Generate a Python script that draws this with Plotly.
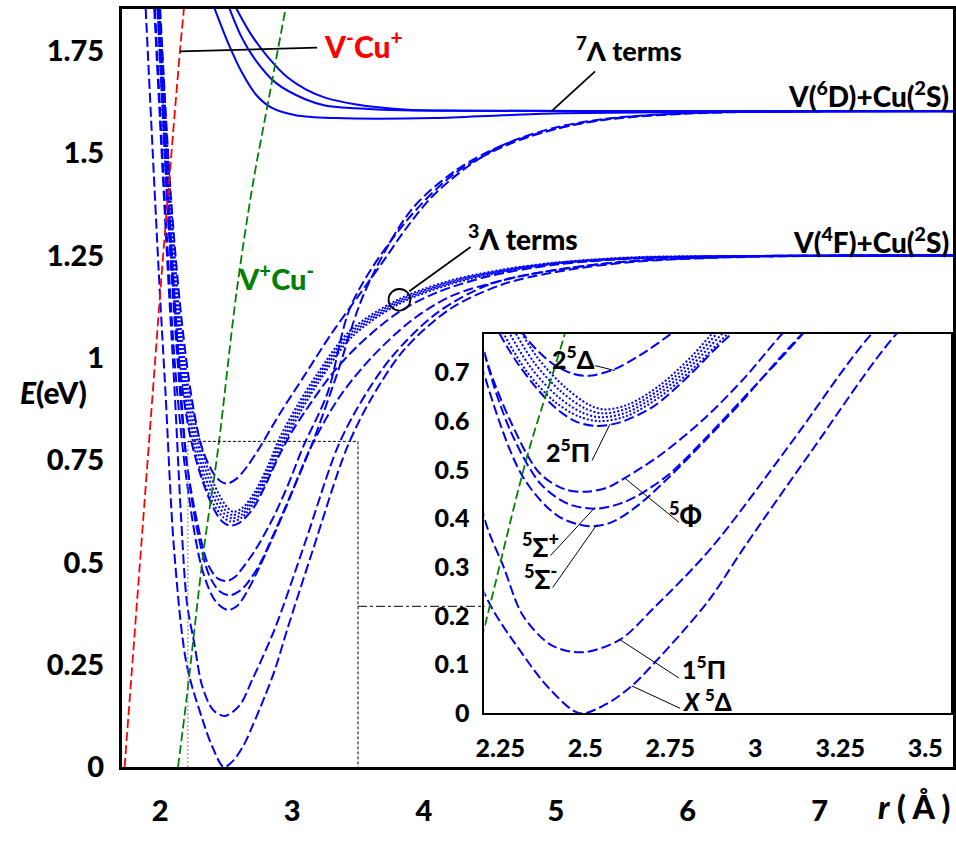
import plotly.graph_objects as go

# ---------------- potential energy curves of VCu (r in Angstrom, E in eV) ----------------
# septet terms, V(6D)+Cu(2S)
r_7a = [2.412, 2.517, 2.622, 2.727, 2.84, 3.027, 3.327, 4.076, 4.601, 5.05, 6.1, 8.02]
E_7a = [1.854, 1.768, 1.696, 1.643, 1.612, 1.593, 1.586, 1.586, 1.593, 1.598, 1.601, 1.603]
r_7b = [2.525, 2.615, 2.727, 2.877, 3.10, 3.25, 3.477, 3.85, 4.3, 5.5, 8.02]
E_7b = [1.854, 1.785, 1.726, 1.672, 1.632, 1.617, 1.61, 1.605, 1.604, 1.603, 1.603]
r_7c = [2.577, 2.69, 2.817, 2.967, 3.10, 3.25, 3.477, 3.85, 4.3, 5.5, 8.02]
E_7c = [1.854, 1.79, 1.735, 1.685, 1.657, 1.636, 1.62, 1.607, 1.604, 1.603, 1.603]

# quintet terms (dashed)
r_X5D = [1.89, 1.99, 2.04, 2.105, 2.2, 2.32, 2.395, 2.483, 2.56, 2.637, 2.703, 2.791, 2.869,
         2.965, 3.16, 3.416, 3.6, 3.85, 4.2, 4.6, 5.0, 5.6, 6.5, 8.02]
E_X5D = [1.853, 1.204, 0.916, 0.533, 0.252, 0.117, 0.05, 0.0, 0.018, 0.056, 0.103, 0.171, 0.237,
         0.338, 0.533, 0.78, 0.9, 1.02, 1.12, 1.18, 1.21, 1.235, 1.247, 1.25]

r_1P = [1.955, 2.06, 2.11, 2.16, 2.2035, 2.26, 2.317, 2.4, 2.49, 2.602, 2.7, 2.869, 3.1, 3.343,
        3.5, 3.75, 4.1, 4.5, 5.0, 5.6, 6.5, 8.02]
E_1P = [1.853, 1.2, 0.916, 0.6, 0.4, 0.3, 0.2, 0.14, 0.125, 0.151, 0.215, 0.338, 0.55, 0.78,
        0.88, 1.0, 1.11, 1.18, 1.215, 1.237, 1.248, 1.25]

r_Sm = [1.96, 2.05, 2.12, 2.2035, 2.317, 2.42, 2.512, 2.58, 2.657, 2.75, 2.85, 2.95, 3.14,
        3.35, 3.6, 3.9, 4.2, 4.6, 5.0, 5.6, 6.5, 8.02]
E_Sm = [1.853, 1.3, 0.95, 0.694, 0.485, 0.405, 0.384, 0.393, 0.428, 0.487, 0.558, 0.632, 0.78,
        0.9, 1.0, 1.09, 1.15, 1.19, 1.215, 1.237, 1.248, 1.25]

r_Sp = [1.99, 2.08, 2.15, 2.2035, 2.28, 2.37, 2.45, 2.53, 2.6, 2.657, 2.75, 2.85, 2.95, 3.14,
        3.33, 3.55, 3.9, 4.25, 4.6, 5.0, 5.4, 6.0, 7.0, 8.02]
E_Sp = [1.853, 1.3, 0.95, 0.74, 0.58, 0.47, 0.43, 0.42, 0.43, 0.448, 0.493, 0.562, 0.636, 0.78,
        0.95, 1.16, 1.36, 1.46, 1.52, 1.56, 1.584, 1.598, 1.603, 1.603]

r_Phi = [1.98, 2.06, 2.13, 2.2035, 2.28, 2.366, 2.44, 2.506, 2.57, 2.616, 2.72, 2.85, 2.97,
         3.08, 3.27, 3.45, 3.84, 4.23, 4.6, 4.97, 5.35, 6.0, 7.0, 8.02]
E_Phi = [1.853, 1.35, 1.0, 0.74, 0.6, 0.493, 0.46, 0.455, 0.465, 0.483, 0.53, 0.605, 0.69,
         0.78, 0.915, 1.13, 1.324, 1.45, 1.516, 1.557, 1.581, 1.597, 1.603, 1.603]

r_2P = [1.99, 2.07, 2.14, 2.22, 2.3, 2.4, 2.47, 2.53, 2.6, 2.7, 2.8, 2.9, 3.0, 3.1, 3.3,
        3.5, 3.8, 4.1, 4.5, 5.0, 5.6, 6.5, 8.02]
E_2P = [1.853, 1.3, 1.0, 0.82, 0.72, 0.635, 0.6, 0.59, 0.597, 0.63, 0.69, 0.76, 0.82, 0.87,
        0.96, 1.03, 1.11, 1.16, 1.2, 1.228, 1.243, 1.249, 1.25]

r_2D = [2.0, 2.08, 2.16, 2.24, 2.317, 2.4, 2.46, 2.51, 2.58, 2.66, 2.753, 2.9, 3.1, 3.3, 3.5,
        3.7, 3.85, 4.05, 4.3, 4.6, 5.0, 5.4, 6.0, 7.0, 8.02]
E_2D = [1.853, 1.4, 1.1, 0.9, 0.78, 0.72, 0.698, 0.693, 0.705, 0.735, 0.78, 0.86, 0.96, 1.06,
        1.15, 1.24, 1.31, 1.39, 1.46, 1.52, 1.563, 1.585, 1.598, 1.603, 1.603]

# triplet terms (dotted), V(4F)+Cu(2S)
r_3a = [1.98, 2.06, 2.13, 2.2, 2.26, 2.33, 2.41, 2.48, 2.54, 2.62, 2.72, 2.82, 2.92, 3.05,
        3.2, 3.45, 3.8, 4.2, 4.6, 5.0, 5.6, 6.5, 8.02]
E_3a = [1.853, 1.35, 1.05, 0.87, 0.78, 0.7, 0.64, 0.61, 0.6, 0.61, 0.65, 0.71, 0.78, 0.86,
        0.94, 1.05, 1.13, 1.18, 1.21, 1.23, 1.243, 1.249, 1.25]
r_3b = [1.985, 2.067, 2.138, 2.209, 2.27, 2.34, 2.42, 2.49, 2.545, 2.622, 2.72, 2.818, 2.915,
        3.045, 3.195, 3.445, 3.8, 4.2, 4.6, 5.0, 5.6, 6.5, 8.02]
E_3b = [1.853, 1.36, 1.06, 0.88, 0.79, 0.71, 0.65, 0.618, 0.608, 0.618, 0.658, 0.718, 0.788,
        0.867, 0.946, 1.055, 1.134, 1.183, 1.212, 1.231, 1.244, 1.249, 1.25]
r_3c = [1.99, 2.074, 2.146, 2.218, 2.28, 2.35, 2.43, 2.5, 2.55, 2.624, 2.72, 2.816, 2.91,
        3.04, 3.19, 3.44, 3.8, 4.2, 4.6, 5.0, 5.6, 6.5, 8.02]
E_3c = [1.853, 1.37, 1.07, 0.89, 0.8, 0.72, 0.66, 0.626, 0.616, 0.626, 0.666, 0.726, 0.796,
        0.874, 0.952, 1.06, 1.138, 1.186, 1.214, 1.232, 1.245, 1.249, 1.25]
r_3d = [1.995, 2.081, 2.154, 2.227, 2.29, 2.36, 2.44, 2.51, 2.555, 2.626, 2.72, 2.814, 2.905,
        3.035, 3.185, 3.435, 3.8, 4.2, 4.6, 5.0, 5.6, 6.5, 8.02]
E_3d = [1.853, 1.38, 1.08, 0.9, 0.81, 0.73, 0.67, 0.634, 0.624, 0.634, 0.674, 0.734, 0.804,
        0.881, 0.958, 1.065, 1.142, 1.189, 1.216, 1.233, 1.246, 1.249, 1.25]

# ionic curves
r_ion_minus = [1.73, 1.80, 1.87, 1.94, 2.01, 2.08, 2.15, 2.18]
E_ion_minus = [0.0, 0.3, 0.6, 0.9, 1.2, 1.48, 1.75, 1.853]
r_ion_plus = [2.135, 2.2, 2.33, 2.44, 2.577, 2.7, 2.825, 2.95]
E_ion_plus = [0.0, 0.167, 0.53, 0.78, 1.156, 1.42, 1.636, 1.853]

main_ticks = [0, 0.25, 0.5, 0.75, 1, 1.25, 1.5, 1.75]
main_ticktext = ["0", "0.25", "0.5", "0.75", "1", "1.25", "1.5", "1.75"]
main_xticks = [2, 3, 4, 5, 6, 7]
inset_yticks = [0, 0.1, 0.2, 0.3, 0.4, 0.5, 0.6, 0.7]
inset_xticks = [2.25, 2.5, 2.75, 3, 3.25, 3.5]
inset_xticktext = ["2.25", "2.5", "2.75", "3", "3.25", "3.5"]

BLUE = "#0000ff"
DASH = "10px,4px"
DOT = "2px,2px"

septets = [(r_7a, E_7a), (r_7b, E_7b), (r_7c, E_7c)]
quintets = [(r_X5D, E_X5D), (r_1P, E_1P), (r_Sm, E_Sm), (r_Sp, E_Sp), (r_Phi, E_Phi),
            (r_2P, E_2P), (r_2D, E_2D)]
triplets = [(r_3a, E_3a), (r_3b, E_3b), (r_3c, E_3c), (r_3d, E_3d)]

fig = go.Figure()


def add_curve(r, E, color, dash, width, axes):
    for xa, ya in axes:
        fig.add_trace(go.Scatter(x=r, y=E, mode="lines", xaxis=xa, yaxis=ya,
                                 line=dict(color=color, dash=dash, width=width,
                                           shape="spline", smoothing=0.9),
                                 hoverinfo="skip", showlegend=False))


both = [("x", "y"), ("x2", "y2")]
for r, E in septets:
    add_curve(r, E, BLUE, "solid", 2, [("x", "y")])
for r, E in quintets:
    add_curve(r, E, BLUE, DASH, 2, both)
for r, E in triplets:
    add_curve(r, E, BLUE, DOT, 2, both)
add_curve(r_ion_minus, E_ion_minus, "#ff0000", "9px,4px", 1.8, [("x", "y")])
add_curve(r_ion_plus, E_ion_plus, "#008000", "9px,4px", 1.8, both)

FONT = "Lato Black, Lato Heavy, Lato"
W = "bold"
tick_main = dict(family=FONT, size=29, color="black", weight=W)
tick_inset = dict(family=FONT, size=25, color="black", weight=W)

fig.update_layout(
    width=956, height=841,
    margin=dict(l=0, r=0, t=0, b=0),
    paper_bgcolor="white", plot_bgcolor="white",
    showlegend=False,
    xaxis=dict(domain=[114 / 956, 955 / 956], range=[1.708, 8.012],
               tickvals=main_xticks, tickfont=tick_main, showgrid=False, zeroline=False,
               showline=True, linecolor="black", linewidth=2.5, mirror=True,
               ticks="", ticklabelstandoff=16),
    yaxis=dict(domain=[1 - 782 / 841, 1 - 9 / 841], range=[0, 1.853],
               tickvals=main_ticks, ticktext=main_ticktext, tickfont=tick_main,
               showgrid=False, zeroline=False,
               showline=True, linecolor="black", linewidth=2.5, mirror=True,
               ticks="", ticklabelstandoff=9),
    xaxis2=dict(domain=[481 / 956, 953 / 956], range=[2.2035, 3.576], anchor="y2",
                tickvals=inset_xticks, ticktext=inset_xticktext, tickfont=tick_inset,
                showgrid=False, zeroline=False,
                showline=True, linecolor="black", linewidth=2, mirror=True,
                ticks="", ticklabelstandoff=12),
    yaxis2=dict(domain=[1 - 727 / 841, 1 - 340 / 841], range=[0, 0.78], anchor="x2",
                tickvals=inset_yticks, tickfont=tick_inset, showgrid=False, zeroline=False,
                showline=True, linecolor="black", linewidth=2, mirror=True,
                ticks="", ticklabelstandoff=8),
)

# zoom window in the main panel and its connector to the inset
fig.add_shape(type="line", xref="x", yref="y", x0=2.21, y0=0, x1=2.21, y1=0.796,
              line=dict(color="gray", width=1, dash="2px,2px"))
fig.add_shape(type="line", xref="x", yref="y", x0=2.21, y0=0.796, x1=3.5, y1=0.796,
              line=dict(color="black", width=1, dash="3px,2px"))
fig.add_shape(type="line", xref="x", yref="y", x0=3.5, y0=0.796, x1=3.5, y1=0,
              line=dict(color="black", width=1, dash="3px,2px"))
fig.add_shape(type="line", xref="x", yref="y", x0=3.5, y0=0.393, x1=4.459, y1=0.393,
              line=dict(color="black", width=1, dash="dashdot"))

# leader lines in the main panel
leaders_main = [
    (2.15, 1.749, 3.19, 1.758),   # V-Cu+
    (4.968, 1.603, 5.298, 1.70),  # 7-Lambda terms
    (3.889, 1.163, 4.354, 1.271),  # 3-Lambda terms
]
for x0, y0, x1, y1 in leaders_main:
    fig.add_shape(type="line", xref="x", yref="y", x0=x0, y0=y0, x1=x1, y1=y1,
                  line=dict(color="black", width=1.8))
fig.add_shape(type="circle", xref="x", yref="y", x0=3.814 - 0.0825, x1=3.814 + 0.0825,
              y0=1.142 - 0.0264, y1=1.142 + 0.0264, line=dict(color="black", width=1.8))

# leader lines in the inset
leaders_inset = [
    (2.529, 0.714, 2.587, 0.704),  # 2 5Delta
    (2.52, 0.519, 2.573, 0.594),   # 2 5Pi
    (2.616, 0.483, 2.776, 0.392),  # 5Phi
    (2.398, 0.324, 2.529, 0.423),  # 5Sigma+
    (2.404, 0.258, 2.535, 0.388),  # 5Sigma-
    (2.602, 0.151, 2.776, 0.072),  # 1 5Pi
    (2.637, 0.056, 2.779, 0.010),  # X 5Delta
]
for x0, y0, x1, y1 in leaders_inset:
    fig.add_shape(type="line", xref="x2", yref="y2", x0=x0, y0=y0, x1=x1, y1=y1,
                  line=dict(color="black", width=1))


def label(text, x, y, xref, yref, size=26, color="black", xanchor="center"):
    fig.add_annotation(text=text, x=x, y=y, xref=xref, yref=yref, showarrow=False,
                       xanchor=xanchor, yanchor="middle",
                       font=dict(family=FONT, size=size, color=color, weight=W))


label("V<sup>-</sup>Cu<sup>+</sup>", 3.23, 1.768, "x", "y", size=30, color="#ff0000",
      xanchor="left")
label("V<sup>+</sup>Cu<sup>-</sup>", 2.877, 1.197, "x", "y", size=29, color="#008000")
label("<sup>7</sup>Λ terms", 5.553, 1.756, "x", "y", size=27)
label("<sup>3</sup>Λ terms", 4.751, 1.295, "x", "y", size=28)
label("V(<sup>6</sup>D)+Cu(<sup>2</sup>S)", 953 / 956, 1.643, "paper", "y", size=28,
      xanchor="right")
label("V(<sup>4</sup>F)+Cu(<sup>2</sup>S)", 953 / 956, 1.288, "paper", "y", size=28,
      xanchor="right")

label("2<sup>5</sup>Δ", 2.465, 0.730, "x2", "y2", size=25)
label("2<sup>5</sup>Π", 2.45, 0.539, "x2", "y2", size=25)
label("<sup>5</sup>Φ", 2.794, 0.408, "x2", "y2", size=26)
label("<sup>5</sup>Σ<sup>+</sup>", 2.369, 0.344, "x2", "y2", size=26)
label("<sup>5</sup>Σ<sup>-</sup>", 2.369, 0.278, "x2", "y2", size=26)
label("1<sup>5</sup>Π", 2.849, 0.094, "x2", "y2", size=25)
label("<i>X</i> <sup>5</sup>Δ", 2.858, 0.028, "x2", "y2", size=24)

# axis titles
label("<i>E</i>(eV)", 45 / 956, 1 - 400 / 841, "paper", "paper", size=30)
label("<i>r</i> ( Å )", 916 / 956, 1 - 822 / 841, "paper", "paper", size=32)

fig.write_html("out.html")
